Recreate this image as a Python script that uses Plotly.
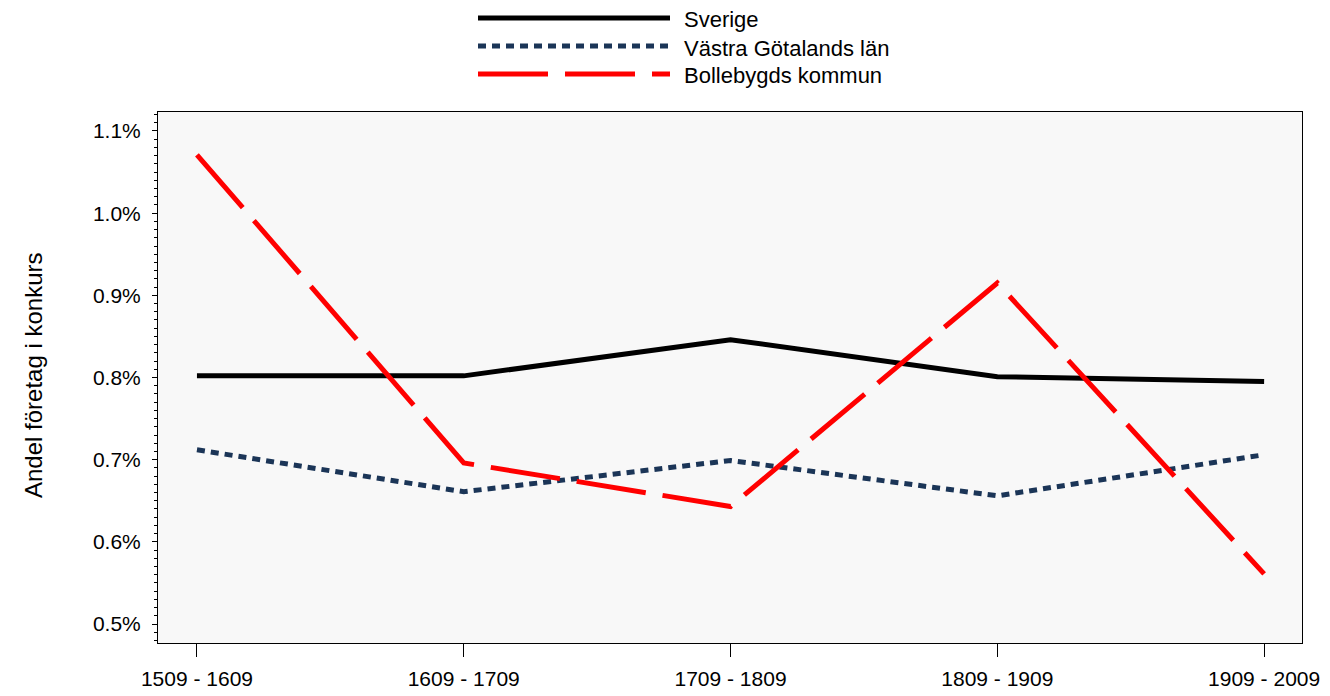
import plotly.graph_objects as go

# -------------------------------
# data
# -------------------------------
periods = ["1509 - 1609", "1609 - 1709", "1709 - 1809", "1809 - 1909", "1909 - 2009"]
sverige = [0.00802, 0.00802, 0.00846, 0.00801, 0.00795]
vastra_gotaland = [0.00712, 0.00661, 0.00699, 0.00656, 0.00706]
bollebygd = [0.01071, 0.00696, 0.00643, 0.00915, 0.00561]

series_names = ["Sverige", "Västra Götalands län", "Bollebygds kommun"]
y_tickvals = [0.005, 0.006, 0.007, 0.008, 0.009, 0.010, 0.011]

font_family = "Liberation Sans, Arial, sans-serif"

# page body has an 8px margin, so the figure is a bit smaller than the window
W, H = 1322, 688
M_L, M_R, M_T, M_B = 150, 28, 104, 53
PLOT_W = W - M_L - M_R
PLOT_H = H - M_T - M_B

def px_x(px):
    return (px - M_L) / PLOT_W

def px_y(py):
    return (H - M_B - py) / PLOT_H

line_styles = [
    dict(color="#000000", width=5),
    dict(color="#1B3557", width=5, dash="8px,6px"),
    dict(color="#FF0000", width=5, dash="70px,17px"),
]

fig = go.Figure()
for name, values, style in zip(series_names, [sverige, vastra_gotaland, bollebygd], line_styles):
    fig.add_trace(go.Scatter(
        x=periods, y=values, mode="lines", name=name,
        line=style, showlegend=False
    ))

# -------------------------------
# hand-made legend at the top
# -------------------------------
legend_rows = [10, 38, 66]
for name, style, row in zip(series_names, line_styles, legend_rows):
    fig.add_shape(
        type="line", xref="paper", yref="paper",
        x0=px_x(470), x1=px_x(662), y0=px_y(row), y1=px_y(row),
        line=style
    )
    fig.add_annotation(
        text=name, xref="paper", yref="paper",
        x=px_x(674), y=px_y(row + 2), xanchor="left", yanchor="middle",
        showarrow=False, font=dict(size=22, color="black")
    )

fig.add_annotation(
    text="Andel företag i konkurs", xref="paper", yref="paper",
    x=px_x(25), y=px_y(368), xanchor="center", yanchor="middle",
    textangle=-90, showarrow=False, font=dict(size=24, color="black")
)

fig.update_xaxes(
    range=[-0.146, 4.142],
    showgrid=False, zeroline=False,
    showline=True, linecolor="black", linewidth=1, mirror=True,
    ticks="outside", ticklen=13, tickcolor="black", tickangle=0,
    ticklabelstandoff=4,
    tickfont=dict(size=21, color="black")
)
fig.update_yaxes(
    range=[0.004769, 0.011231],
    tickvals=y_tickvals, tickformat=".1%",
    showgrid=False, zeroline=False,
    showline=True, linecolor="black", linewidth=1, mirror=True,
    ticks="outside", ticklen=5, tickcolor="black",
    ticklabelstandoff=7,
    minor=dict(dtick=0.0001, ticks="outside", ticklen=3, tickcolor="black", showgrid=False),
    tickfont=dict(size=21, color="black")
)
fig.update_layout(
    width=W, height=H,
    margin=dict(l=M_L, r=M_R, t=M_T, b=M_B, autoexpand=False),
    paper_bgcolor="white",
    plot_bgcolor="#F8F8F8",
    font=dict(family=font_family, color="black"),
    showlegend=False
)

fig.write_html("out.html")
